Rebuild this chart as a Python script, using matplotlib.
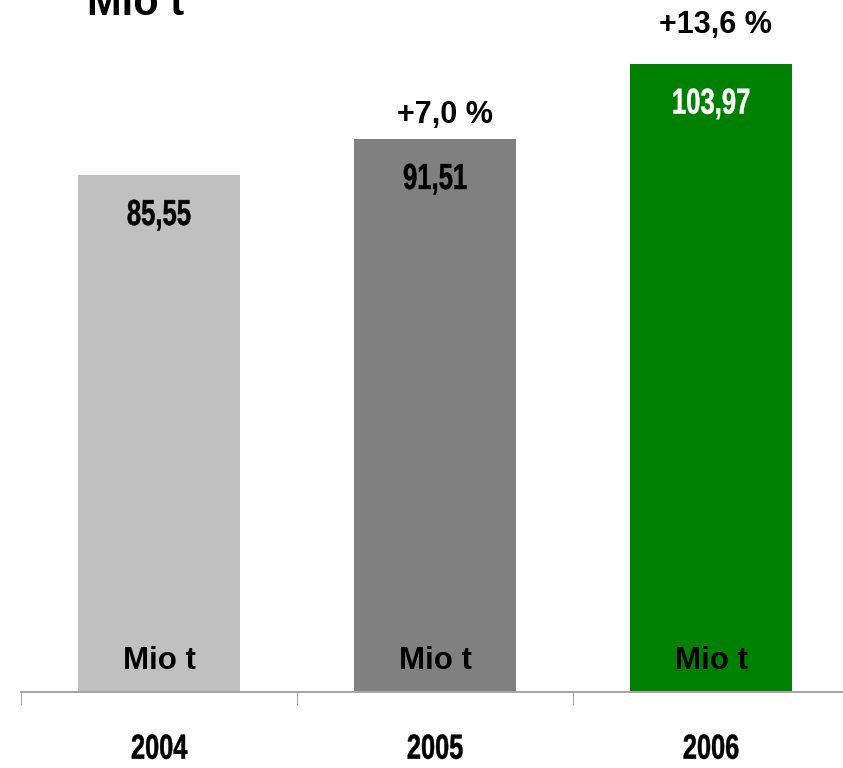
import numpy as np
import matplotlib
matplotlib.use("Agg")
import matplotlib.pyplot as plt
from matplotlib.patheffects import AbstractPathEffect
from matplotlib.transforms import Affine2D

# data
years = ["2004", "2005", "2006"]
values = [85.55, 91.51, 103.97]
value_labels = ["85,55", "91,51", "103,97"]
growth_labels = ["", "+7,0 %", "+13,6 %"]
unit = "Mio t"

# styles
bar_colors = ["#C0C0C0", "#808080", "#008000"]
value_text_colors = ["black", "black", "white"]
growth_offsets = [(0, 0), (7, 11.5), (3, 22)]   # points from bar top (baseline)
font = ["Liberation Sans", "DejaVu Sans"]
axis_grey = "#A6A6A6"


class Stretch(AbstractPathEffect):
    """Scale text glyphs horizontally around their centre (no narrow font installed),
    with a thin outline to keep the strokes heavy."""

    def __init__(self, sx, lw=0.0):
        super().__init__()
        self.sx = sx
        self.lw = lw

    def draw_path(self, renderer, gc, tpath, affine, rgbFace=None):
        ext = tpath.get_extents()
        cx = (ext.x0 + ext.x1) / 2
        squeeze = Affine2D().translate(-cx, 0).scale(self.sx, 1).translate(cx, 0)
        gc0 = renderer.new_gc()
        gc0.copy_properties(gc)
        if self.lw and rgbFace is not None:
            gc0.set_linewidth(self.lw)
            gc0.set_foreground(rgbFace)
        renderer.draw_path(gc0, tpath, squeeze + affine, rgbFace)
        gc0.restore()


fig = plt.figure(figsize=(8.43, 7.68), dpi=100)
ax = fig.add_axes([21 / 843, 76 / 768, 828 / 843, 692 / 768])

x = np.arange(len(years))
bars = ax.bar(x, values, width=0.59, color=bar_colors, zorder=2)

ax.set_xlim(-0.5, len(years) - 0.5)
ax.set_ylim(0, 114.5)

for spine in ["top", "right", "left"]:
    ax.spines[spine].set_visible(False)
ax.spines["bottom"].set_color(axis_grey)
ax.spines["bottom"].set_linewidth(1.5)
ax.set_yticks([])

# year labels centred, tick marks between categories
ax.set_xticks(x)
ax.set_xticklabels(years, fontsize=25, fontweight="bold", family=font, va="baseline")
ax.tick_params(axis="x", which="major", length=0, pad=48)
for lab in ax.get_xticklabels():
    lab.set_path_effects([Stretch(0.73, lw=0.35)])
ax.set_xticks(np.arange(-0.5, len(years)), minor=True)
ax.tick_params(axis="x", which="minor", length=9, width=0.8, color=axis_grey, direction="out")

for i, (b, v) in enumerate(zip(bars, values)):
    cx = b.get_x() + b.get_width() / 2
    ax.annotate(value_labels[i], (cx, v), xytext=(0, -36), textcoords="offset points",
                ha="center", va="baseline", fontsize=26, fontweight="bold",
                family=font, color=value_text_colors[i],
                path_effects=[Stretch(0.71, lw=0.35)])
    ax.annotate(unit, (cx, 0), xytext=(0, 16.5), textcoords="offset points",
                ha="center", va="baseline", fontsize=22.5, fontweight="bold",
                family=font, color="black")
    if growth_labels[i]:
        ax.annotate(growth_labels[i], (cx, v), xytext=growth_offsets[i],
                    textcoords="offset points", ha="center", va="baseline",
                    fontsize=22, fontweight="bold", family=font, color="black")

fig.text(87 / 843, (768 - 15) / 768, unit, ha="left", va="baseline",
         fontsize=30, fontweight="bold", family=font)

fig.savefig("out.png", dpi=100)
